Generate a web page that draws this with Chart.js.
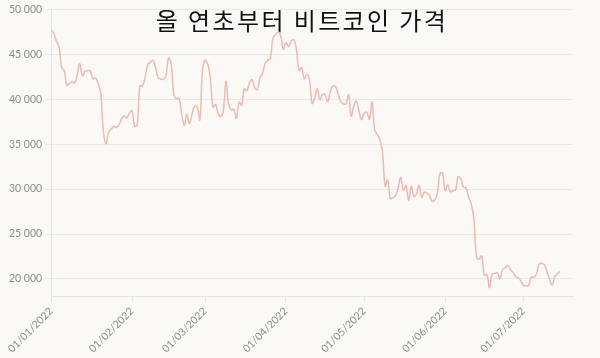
<!DOCTYPE html>
<html>
<head>
<meta charset="utf-8">
<script src="https://cdn.jsdelivr.net/npm/chart.js@4/dist/chart.umd.min.js"></script>
<style>
  html, body { margin: 0; padding: 0; background: #fbf9f6; }
  #wrap { width: 600px; height: 358px; position: relative; }
</style>
</head>
<body>
<div id="wrap"><canvas id="graph"></canvas></div>
<script>
// Bitcoin daily price, 01/01/2022 .. 15/07/2022 (USD)
const chartTitle = '올 연초부터 비트코인 가격';

const jan = [47686, 47345, 46458, 45897, 43569, 43160, 41557, 41733, 41911, 41821,
    42735, 43949, 42591, 43099, 43177, 43113, 42250, 42375, 41744, 40680,
    36457, 35030, 36276, 36654, 36954, 36852, 37138, 37784, 38138, 37917, 38483];
const feb = [38743, 36952, 37154, 41500, 41441, 42412, 43840, 44118, 44338, 43565,
    42407, 42244, 42197, 42586, 44575, 43961, 40538, 40030, 40122, 38431,
    37075, 38286, 37296, 38332, 39214, 39105, 37709, 43193];
const mar = [44354, 43924, 42451, 39137, 39400, 38419, 38062, 38737, 41982, 39437,
    38794, 38904, 37849, 39666, 39338, 41143, 40951, 41801, 42190, 41247,
    41077, 42358, 42892, 43960, 44348, 44500, 46820, 47128, 47465, 47062, 45538];
const apr = [46281, 45868, 46453, 46622, 45555, 43206, 43503, 42287, 42782, 42207,
    39521, 40127, 41166, 39936, 40552, 40424, 39716, 40827, 41502, 41374,
    40527, 39740, 39486, 39470, 40458, 38117, 39241, 39773, 38609, 37714];
const may = [38469, 38529, 37750, 39698, 36575, 36040, 35501, 34059, 30296, 31022,
    28936, 29047, 29283, 30101, 31305, 29862, 30425, 28720, 30314, 29201,
    29445, 30397, 29098, 29655, 29562, 29267, 28627, 28814, 29445, 31726, 31792];
const jun = [29799, 30467, 29704, 29832, 29906, 31370, 31155, 30214, 30112, 29083,
    28360, 26762, 22487, 22206, 22572, 20381, 20471, 19017, 20553, 20599,
    20710, 19988, 21085, 21231, 21502, 21027, 20735, 20281, 20104, 19785];
const jul = [19269, 19243, 19297, 20231, 20190, 20548, 21637, 21731, 21592, 20860,
    19970, 19323, 20212, 20569, 20836];

const prices = [].concat(jan, feb, mar, apr, may, jun, jul);

// x ticks: day index of each month start and its label
const monthStarts = [0, 31, 59, 90, 120, 151, 181];
const monthLabels = ['01/01/2022', '01/02/2022', '01/03/2022', '01/04/2022',
    '01/05/2022', '01/06/2022', '01/07/2022'];
const yTicks = [20000, 25000, 30000, 35000, 40000, 45000, 50000];

const points = prices.map((v, i) => ({ x: i, y: v }));

function fmt(n) {
    return String(n).replace(/\B(?=(\d{3})+(?!\d))/g, ' ');
}

// title drawn on top of the plot, centred on the page
const titlePlugin = {
    id: 'overTitle',
    beforeDatasetsDraw(chart) {
        const ctx = chart.ctx;
        ctx.save();
        ctx.font = '24px "Noto Sans CJK KR"';
        ctx.fillStyle = '#111';
        ctx.textAlign = 'center';
        ctx.textBaseline = 'middle';
        ctx.letterSpacing = '2.4px';
        ctx.fillText(chartTitle, 302, 21);
        ctx.restore();
    }
};

const tickFont = { family: 'Lato', size: 10.5 };

new Chart(document.querySelector('#graph').getContext('2d'), {
    type: 'line',
    data: {
        datasets: [{
            data: points,
            borderColor: '#ebbab5',
            borderWidth: 1.5,
            pointRadius: 0,
            tension: 0.4,
            fill: false
        }]
    },
    options: {
        responsive: true,
        maintainAspectRatio: false,
        animation: false,
        layout: { padding: { top: 7, right: 27, left: 6, bottom: 0 } },
        plugins: {
            legend: { display: false },
            tooltip: { enabled: false }
        },
        scales: {
            x: {
                type: 'linear',
                min: 0,
                max: 200,
                afterBuildTicks: axis => {
                    axis.ticks = monthStarts.map(v => ({ value: v }));
                },
                ticks: {
                    minRotation: 45,
                    maxRotation: 45,
                    padding: 3,
                    color: '#8c8c8c',
                    font: tickFont,
                    callback: v => monthLabels[monthStarts.indexOf(v)]
                },
                grid: {
                    drawOnChartArea: false,
                    tickLength: 5,
                    color: '#e8e5e1'
                },
                border: { color: '#e8e5e1' }
            },
            y: {
                min: 18000,
                max: 50000,
                afterBuildTicks: axis => {
                    axis.ticks = yTicks.map(v => ({ value: v }));
                },
                ticks: {
                    color: '#8c8c8c',
                    font: tickFont,
                    padding: 3,
                    callback: v => fmt(v)
                },
                grid: {
                    color: '#ece9e5',
                    tickLength: 6
                },
                border: { color: '#e8e5e1' }
            }
        }
    },
    plugins: [titlePlugin]
});
</script>
</body>
</html>
